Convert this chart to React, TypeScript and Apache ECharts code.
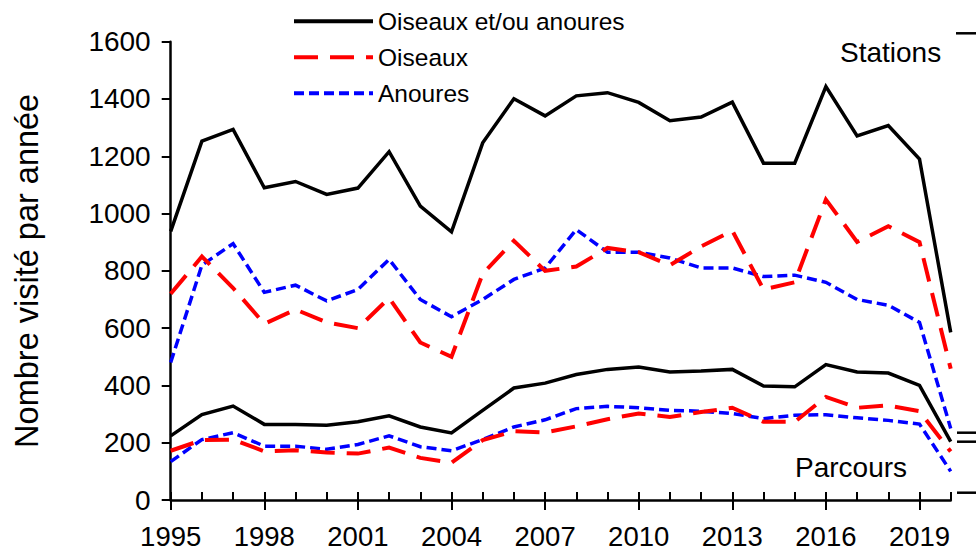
import React, { useEffect, useRef } from "react";
import * as echarts from "echarts";

const years = ["1995","1996","1997","1998","1999","2000","2001","2002","2003","2004","2005","2006","2007","2008","2009","2010","2011","2012","2013","2014","2015","2016","2017","2018","2019","2020"];

const seriesNames = ["Oiseaux et/ou anoures", "Oiseaux", "Anoures"];

// Stations
const stationsTotal = [938, 1253, 1294, 1090, 1112, 1067, 1089, 1216, 1026, 936, 1247, 1401, 1341, 1411, 1422, 1388, 1324, 1337, 1389, 1176, 1176, 1443, 1271, 1307, 1190, 585];
const stationsOiseaux = [720, 850, 740, 615, 665, 620, 600, 705, 550, 500, 790, 905, 800, 815, 880, 865, 820, 885, 940, 735, 760, 1049, 901, 956, 900, 458];
const stationsAnoures = [480, 820, 895, 725, 750, 695, 735, 840, 700, 640, 700, 770, 810, 944, 865, 865, 845, 810, 810, 780, 785, 760, 700, 680, 620, 250];

// Parcours
const parcoursTotal = [224, 298, 328, 264, 264, 261, 273, 294, 255, 234, 313, 391, 408, 438, 456, 464, 447, 450, 456, 398, 395, 473, 447, 443, 400, 204];
const parcoursOiseaux = [172, 209, 211, 170, 174, 166, 162, 183, 147, 130, 209, 240, 236, 257, 282, 302, 290, 307, 322, 273, 273, 360, 322, 330, 310, 169];
const parcoursAnoures = [134, 211, 235, 188, 188, 177, 194, 224, 186, 172, 211, 255, 280, 319, 327, 322, 313, 310, 302, 284, 296, 298, 287, 278, 265, 100];

const yTicks = { min: 0, max: 1600, interval: 200 };

const FONT = "'Liberation Sans', Arial, Helvetica, sans-serif";

const styles = [
  { color: "#000000", type: "solid" as any, width: 3.5 },
  { color: "#ff0000", type: [24, 12] as any, width: 4 },
  { color: "#0000ff", type: [10, 5] as any, width: 3.5 },
];

export default function App() {
  const ref = useRef<HTMLDivElement>(null);
  useEffect(() => {
    document.body.style.margin = "0";
    if (!ref.current) return;
    const chart = echarts.init(ref.current, undefined, { renderer: "svg" });
    const mk = (name: string, data: number[], s: any, z: number) => ({
      name,
      type: "line",
      data,
      symbol: "none",
      showSymbol: false,
      z,
      lineStyle: { color: s.color, type: s.type, width: s.width, cap: "butt", join: "miter" },
      itemStyle: { color: s.color },
    });
    chart.setOption({
      animation: false,
      textStyle: { fontFamily: FONT },
      grid: { left: 170.7, right: 25.3, top: 41.7, bottom: 48.3, containLabel: false },
      legend: {
        data: seriesNames,
        orient: "vertical",
        left: 292,
        top: 8.7,
        padding: 0,
        itemWidth: 79,
        itemHeight: 24,
        itemGap: 11,
        itemStyle: { opacity: 0 },
        lineStyle: { width: 4, color: "inherit", type: "inherit" },
        textStyle: { fontSize: 24.5, color: "#000", fontFamily: FONT },
        selectedMode: false,
      },
      xAxis: [
        {
          type: "category",
          data: years,
          boundaryGap: false,
          axisLine: { show: true, lineStyle: { color: "#000", width: 2.5 } },
          axisTick: { show: true, inside: true, interval: 0, length: 8, lineStyle: { color: "#000", width: 2 } },
          axisLabel: { interval: 2, fontSize: 27.5, color: "#000", margin: 22, fontFamily: FONT },
          splitLine: { show: false },
        },
        {
          type: "category",
          data: years,
          boundaryGap: false,
          position: "bottom",
          axisLine: { show: false },
          axisTick: { show: true, inside: false, interval: 2, length: 10, lineStyle: { color: "#000", width: 2 } },
          axisLabel: { show: false },
          splitLine: { show: false },
        },
      ],
      yAxis: {
        type: "value",
        min: yTicks.min,
        max: yTicks.max,
        interval: yTicks.interval,
        name: "Nombre visité par année",
        nameLocation: "middle",
        nameRotate: 90,
        nameGap: 127,
        nameTextStyle: { fontSize: 32.5, color: "#000", fontFamily: FONT },
        axisLine: { show: true, lineStyle: { color: "#000", width: 2.5 } },
        axisTick: { show: true, inside: false, length: 9, lineStyle: { color: "#000", width: 2 } },
        axisLabel: { fontSize: 28, color: "#000", margin: 20, fontFamily: FONT, formatter: (v: number) => String(v) },
        splitLine: { show: false },
      },
      series: [
        mk(seriesNames[2], stationsAnoures, styles[2], 2),
        mk(seriesNames[1], stationsOiseaux, styles[1], 3),
        mk(seriesNames[0], stationsTotal, styles[0], 4),
        mk(seriesNames[2], parcoursAnoures, styles[2], 2),
        mk(seriesNames[1], parcoursOiseaux, styles[1], 3),
        mk(seriesNames[0], parcoursTotal, styles[0], 4),
      ],
      graphic: [
        { type: "text", left: 840, top: 38, style: { text: "Stations", fontSize: 28, fill: "#000", fontFamily: FONT } },
        { type: "text", left: 795, top: 453, style: { text: "Parcours", fontSize: 28, fill: "#000", fontFamily: FONT } },
        { type: "line", shape: { x1: 956, y1: 33.3, x2: 976, y2: 33.3 }, style: { stroke: "#000", lineWidth: 2.5 } },
        { type: "line", shape: { x1: 957, y1: 432.7, x2: 976, y2: 432.7 }, style: { stroke: "#000", lineWidth: 2.5 } },
        { type: "line", shape: { x1: 957, y1: 441.7, x2: 976, y2: 441.7 }, style: { stroke: "#000", lineWidth: 2.5 } },
        { type: "line", shape: { x1: 957, y1: 492.7, x2: 976, y2: 492.7 }, style: { stroke: "#000", lineWidth: 2.5 } },
      ],
    });
    return () => chart.dispose();
  }, []);
  return <div ref={ref} style={{ width: 976, height: 550 }} />;
}
